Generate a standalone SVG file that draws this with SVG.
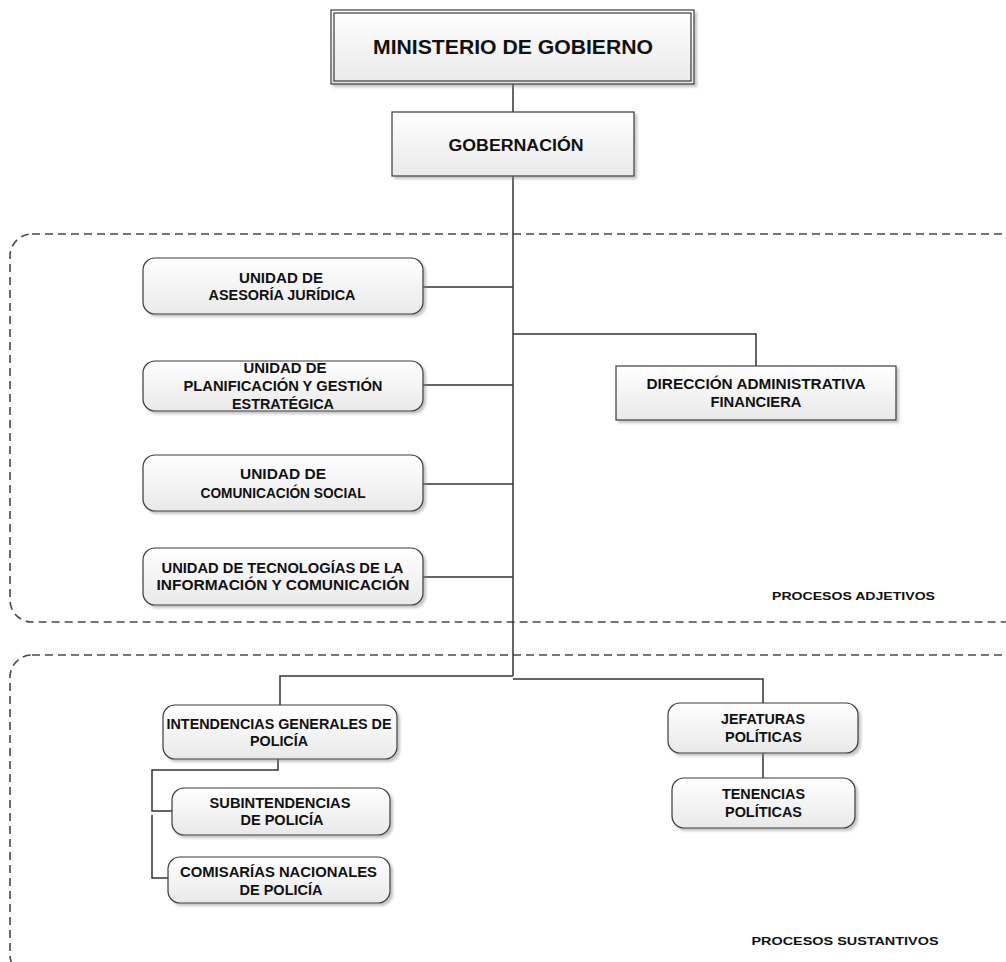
<svg xmlns="http://www.w3.org/2000/svg" width="1006" height="962" viewBox="0 0 1006 962">
<defs>
<linearGradient id="g" x1="0" y1="0" x2="0" y2="1">
<stop offset="0" stop-color="#ffffff"/>
<stop offset="1" stop-color="#e9e9e9"/>
</linearGradient>
<filter id="sh" x="-10%" y="-10%" width="125%" height="130%">
<feDropShadow dx="2.5" dy="2.5" stdDeviation="1.2" flood-color="#8a8a8a" flood-opacity="0.5"/>
</filter>
</defs>
<style>
.box{fill:url(#g);stroke:#3a3a3a;stroke-width:1.2;filter:url(#sh)}
.inner{fill:none;stroke:#3a3a3a;stroke-width:1.2}
.t{font-family:"Liberation Sans",Arial,sans-serif;font-weight:bold;font-size:14px;fill:#111111;text-anchor:middle}
.big{font-size:21px}
.mid{font-size:16px}
.lbl{font-size:11px}
.con{fill:none;stroke:#333333;stroke-width:1.5}
.region{fill:none;stroke:#4a4a4a;stroke-width:1.6;stroke-dasharray:8 5}
</style>
<g id="regions">
<rect class="region" x="10" y="234" width="1015" height="388" rx="22"/>
<rect class="region" x="10" y="655" width="1015" height="322" rx="22"/>
</g>
<g id="connectors">
<path class="con" d="M513,84 V112"/>
<path class="con" d="M513,176 V676"/>
<path class="con" d="M423,287 H513"/>
<path class="con" d="M423,385 H513"/>
<path class="con" d="M423,484 H513"/>
<path class="con" d="M423,577 H513"/>
<path class="con" d="M513,334 H756 V366"/>
<path class="con" d="M513,676 H280 V705"/>
<path class="con" d="M513,679 H763 V703"/>
<path class="con" d="M763,753 V778"/>
<path class="con" d="M278,759 V770 H152 V811 H172"/>
<path class="con" d="M152,815 V878 H168"/>
</g>
<g id="ministerio">
<rect class="box" x="331" y="10" width="363" height="74"/>
<rect class="inner" x="334" y="13" width="357" height="68"/>
<text class="t big" x="513" y="54" textLength="280" lengthAdjust="spacingAndGlyphs">MINISTERIO DE GOBIERNO</text>
</g>
<g id="gobernacion">
<rect class="box" x="392" y="112" width="242" height="64"/>
<text class="t mid" x="516" y="150.5" textLength="135" lengthAdjust="spacingAndGlyphs">GOBERNACIÓN</text>
</g>
<g id="asesoria">
<rect class="box" x="143" y="258" width="280" height="56" rx="12"/>
<text class="t" x="281" y="282.5" textLength="84" lengthAdjust="spacingAndGlyphs">UNIDAD DE</text>
<text class="t" x="282" y="300" textLength="147" lengthAdjust="spacingAndGlyphs">ASESORÍA JURÍDICA</text>
</g>
<g id="planificacion">
<rect class="box" x="143" y="361" width="280" height="50" rx="12"/>
<text class="t" x="285" y="372.5" textLength="83" lengthAdjust="spacingAndGlyphs">UNIDAD DE</text>
<text class="t" x="283" y="390.5" textLength="199" lengthAdjust="spacingAndGlyphs">PLANIFICACIÓN Y GESTIÓN</text>
<text class="t" x="283" y="408.5" textLength="102" lengthAdjust="spacingAndGlyphs">ESTRATÉGICA</text>
</g>
<g id="daf">
<rect class="box" x="616" y="366" width="280" height="54"/>
<text class="t" x="756" y="388.5" textLength="219" lengthAdjust="spacingAndGlyphs">DIRECCIÓN ADMINISTRATIVA</text>
<text class="t" x="756" y="406.5" textLength="91" lengthAdjust="spacingAndGlyphs">FINANCIERA</text>
</g>
<g id="comunicacion">
<rect class="box" x="143" y="455" width="280" height="56" rx="12"/>
<text class="t" x="283" y="479" textLength="86" lengthAdjust="spacingAndGlyphs">UNIDAD DE</text>
<text class="t" x="283" y="498" textLength="165" lengthAdjust="spacingAndGlyphs">COMUNICACIÓN SOCIAL</text>
</g>
<g id="tecnologias">
<rect class="box" x="143" y="548" width="280" height="57" rx="12"/>
<text class="t" x="282.5" y="572.5" textLength="242" lengthAdjust="spacingAndGlyphs">UNIDAD DE TECNOLOGÍAS DE LA</text>
<text class="t" x="283" y="590" textLength="253" lengthAdjust="spacingAndGlyphs">INFORMACIÓN Y COMUNICACIÓN</text>
</g>
<g id="label-adjetivos">
<text class="t lbl" x="853.5" y="600" textLength="163" lengthAdjust="spacingAndGlyphs">PROCESOS ADJETIVOS</text>
</g>
<g id="intendencias">
<rect class="box" x="163" y="705" width="234" height="54" rx="12"/>
<text class="t" x="279" y="729" textLength="225" lengthAdjust="spacingAndGlyphs">INTENDENCIAS GENERALES DE</text>
<text class="t" x="279" y="746" textLength="58" lengthAdjust="spacingAndGlyphs">POLICÍA</text>
</g>
<g id="subintendencias">
<rect class="box" x="172" y="788" width="218" height="47" rx="12"/>
<text class="t" x="280" y="807.5" textLength="141" lengthAdjust="spacingAndGlyphs">SUBINTENDENCIAS</text>
<text class="t" x="282" y="825" textLength="83" lengthAdjust="spacingAndGlyphs">DE POLICÍA</text>
</g>
<g id="comisarias">
<rect class="box" x="168" y="857" width="222" height="46" rx="12"/>
<text class="t" x="278.5" y="876.5" textLength="197" lengthAdjust="spacingAndGlyphs">COMISARÍAS NACIONALES</text>
<text class="t" x="281" y="894.5" textLength="83" lengthAdjust="spacingAndGlyphs">DE POLICÍA</text>
</g>
<g id="jefaturas">
<rect class="box" x="668" y="703" width="190" height="50" rx="12"/>
<text class="t" x="763" y="724" textLength="84" lengthAdjust="spacingAndGlyphs">JEFATURAS</text>
<text class="t" x="763.5" y="741.5" textLength="77" lengthAdjust="spacingAndGlyphs">POLÍTICAS</text>
</g>
<g id="tenencias">
<rect class="box" x="672" y="778" width="183" height="50" rx="12"/>
<text class="t" x="763.5" y="799" textLength="83" lengthAdjust="spacingAndGlyphs">TENENCIAS</text>
<text class="t" x="763.5" y="816.5" textLength="77" lengthAdjust="spacingAndGlyphs">POLÍTICAS</text>
</g>
<g id="label-sustantivos">
<text class="t lbl" x="845" y="945" textLength="187" lengthAdjust="spacingAndGlyphs">PROCESOS SUSTANTIVOS</text>
</g>
</svg>
